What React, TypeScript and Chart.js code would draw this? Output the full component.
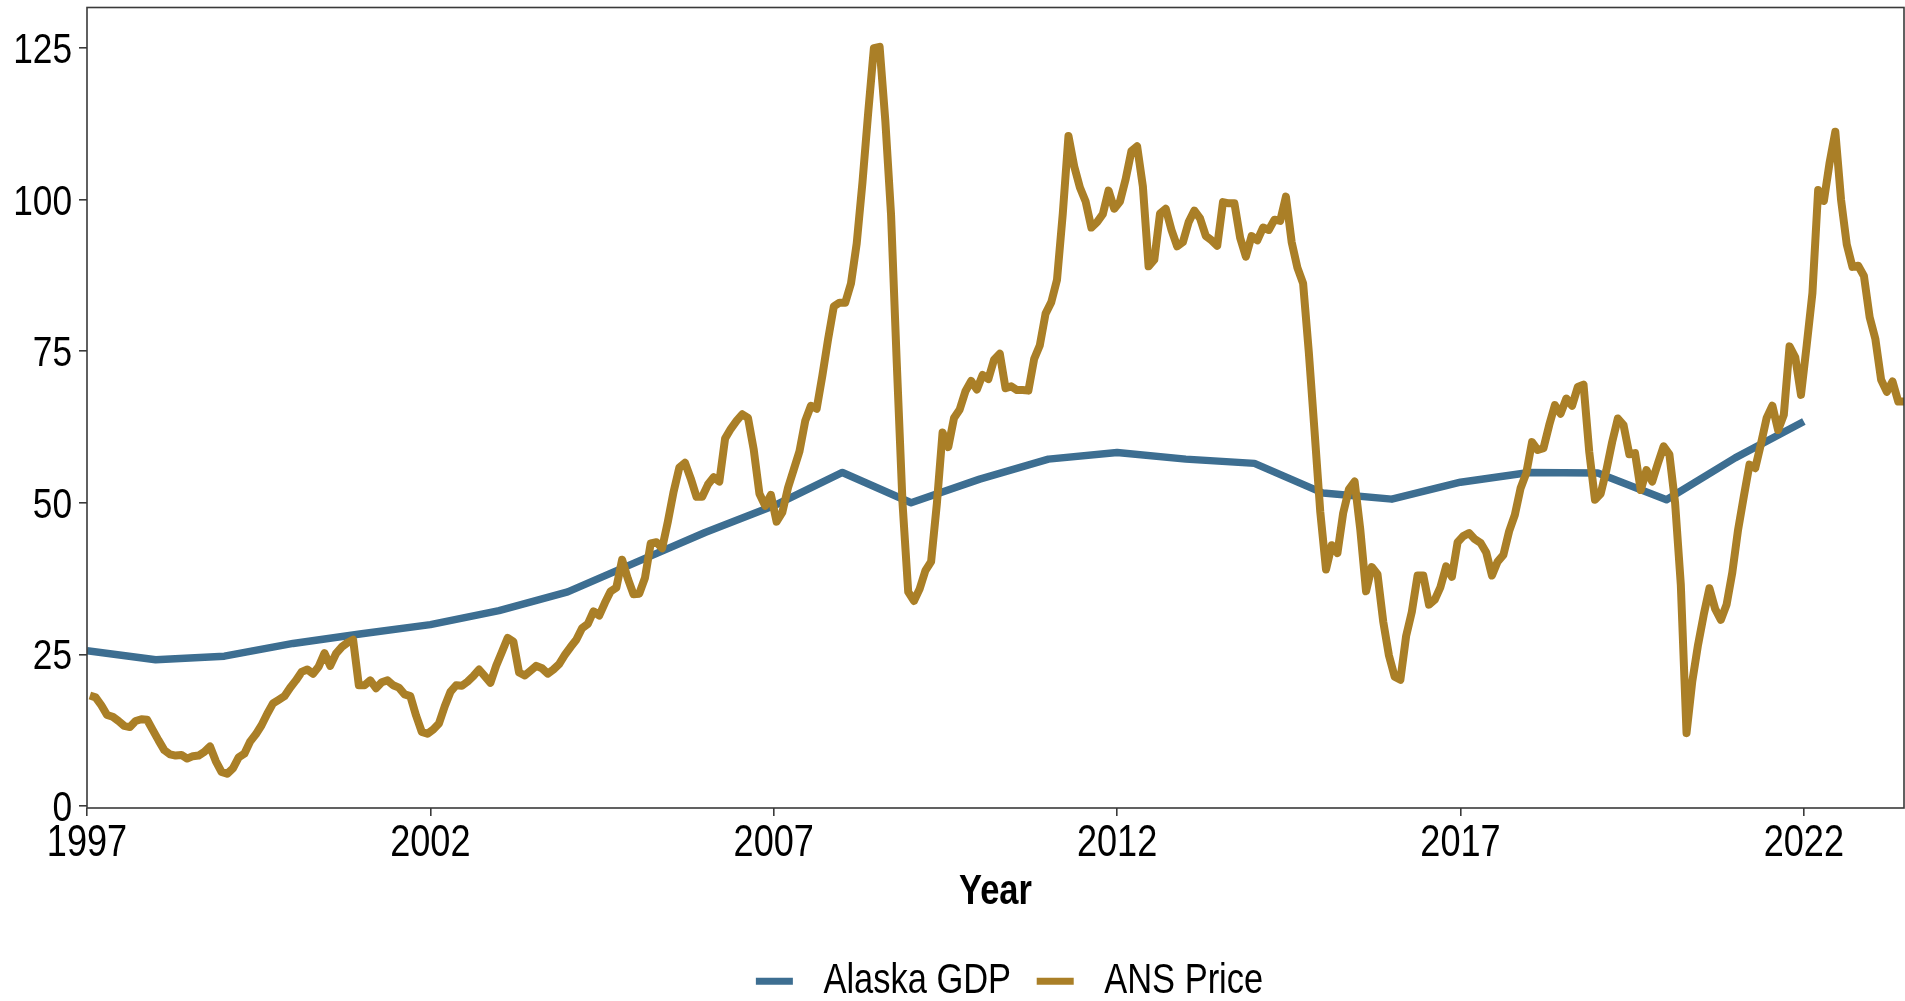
import React, { useEffect, useRef } from "react";
import { Chart, registerables } from "chart.js";

Chart.register(...registerables);

// ---- Data ----
const seriesLabels = ["Alaska GDP", "ANS Price"];
const seriesColors = ["#3D6E91", "#AA7F27"];

const gdpYears = [
  1997, 1998, 1999, 2000, 2001, 2002, 2003, 2004, 2005, 2006, 2007, 2008, 2009,
  2010, 2011, 2012, 2013, 2014, 2015, 2016, 2017, 2018, 2019, 2020, 2021, 2022,
];
const gdpValues = [
  25.6, 24.1, 24.7, 26.8, 28.4, 29.9, 32.2, 35.3, 40.2, 45.1, 49.5, 55.0, 50.0,
  53.9, 57.2, 58.3, 57.2, 56.5, 51.6, 50.6, 53.4, 55.0, 54.9, 50.5, 57.4, 63.4,
];

// Monthly ANS price, January 1997 onward (plotted at mid-month)
const ansStartYear = 1997;
const ansPrice = [
  18.2, 17.9, 16.6, 15.0, 14.7, 14.0, 13.2, 13.0, 14.0, 14.3, 14.2, 12.5, // 1997
  10.8, 9.2, 8.5, 8.3, 8.4, 7.8, 8.2, 8.3, 8.9, 9.8, 7.4, 5.6, // 1998
  5.3, 6.2, 8.0, 8.6, 10.6, 11.8, 13.3, 15.2, 16.9, 17.5, 18.1, 19.5, // 1999
  20.7, 22.1, 22.5, 21.8, 23.0, 25.2, 23.1, 25.1, 26.2, 26.9, 27.4, 19.9, // 2000
  19.9, 20.7, 19.4, 20.4, 20.7, 19.9, 19.5, 18.4, 18.1, 14.9, 12.2, 11.9, // 2001
  12.6, 13.6, 16.4, 18.8, 19.9, 19.8, 20.5, 21.4, 22.5, 21.4, 20.3, 23.1, // 2002
  25.4, 27.7, 27.1, 22.0, 21.5, 22.3, 23.1, 22.7, 21.8, 22.5, 23.4, 24.9, // 2003
  26.2, 27.4, 29.3, 30.0, 32.1, 31.4, 33.5, 35.4, 36.0, 40.6, 37.5, 34.9, // 2004
  35.0, 37.6, 43.3, 43.5, 42.5, 46.9, 51.8, 55.8, 56.6, 54.0, 51.0, 51.0, // 2005
  53.0, 54.2, 53.5, 60.6, 62.2, 63.5, 64.6, 64.0, 58.8, 51.5, 49.5, 51.3, // 2006
  46.9, 48.4, 52.5, 55.5, 58.5, 63.5, 66.0, 65.5, 71.0, 77.0, 82.4, 83.0, // 2007
  83.0, 86.2, 92.8, 102.8, 114.3, 125.0, 125.2, 113.0, 97.5, 73.0, 50.0, 35.3, // 2008
  33.8, 35.8, 38.8, 40.3, 49.8, 61.6, 59.2, 64.0, 65.4, 68.4, 70.1, 68.7, // 2009
  71.1, 70.4, 73.6, 74.6, 68.9, 69.2, 68.6, 68.6, 68.5, 73.7, 76.0, 81.2, // 2010
  83.1, 86.8, 97.6, 110.5, 105.5, 102.0, 99.7, 95.4, 96.3, 97.6, 101.5, 98.5, // 2011
  99.7, 103.4, 108.0, 108.8, 102.2, 89.0, 90.1, 97.7, 98.5, 95.0, 92.3, 93.0, // 2012
  96.3, 98.2, 96.9, 94.0, 93.3, 92.4, 99.6, 99.4, 99.4, 93.7, 90.6, 94.0, // 2013
  93.3, 95.4, 95.0, 96.7, 96.5, 100.5, 93.0, 88.8, 86.2, 74.8, 61.8, 48.5, // 2014
  39.0, 43.0, 41.7, 48.3, 52.2, 53.5, 45.5, 35.4, 39.4, 38.2, 30.4, 24.8, // 2015
  21.3, 20.8, 28.0, 32.0, 38.0, 38.0, 33.2, 34.0, 36.1, 39.5, 37.8, 43.5, // 2016
  44.5, 45.0, 44.0, 43.4, 41.8, 38.0, 40.3, 41.4, 45.3, 48.0, 52.4, 54.9, // 2017
  60.0, 58.7, 59.0, 62.8, 66.1, 64.7, 67.2, 66.0, 69.1, 69.5, 58.4, 50.5, // 2018
  51.5, 55.4, 60.0, 63.9, 62.8, 58.0, 58.2, 52.1, 55.4, 53.5, 56.5, 59.3, // 2019
  58.0, 50.0, 36.5, 12.0, 20.5, 26.5, 31.5, 35.9, 32.5, 30.7, 33.2, 38.5, // 2020
  45.5, 51.0, 56.3, 55.7, 59.7, 64.0, 66.0, 62.0, 64.5, 75.8, 74.0, 67.8, // 2021
  76.0, 84.6, 101.6, 99.8, 106.1, 111.2, 100.0, 92.6, 88.9, 89.1, 87.4, 80.6, // 2022
  77.0, 70.3, 68.3, 70.0, 66.7, 66.7, // 2023
];

const xTickYears = [1997, 2002, 2007, 2012, 2017, 2022];
const yTickValues = [0, 25, 50, 75, 100, 125];
const xAxisTitle = "Year";

const FONT = "'Liberation Sans', Arial, sans-serif";
const AXIS_COLOR = "#3a3a3a";
const NARROW = 0.82; // horizontal squeeze to emulate a narrow sans face

function applyNarrowText(ctx: any) {
  const origFill = ctx.fillText.bind(ctx);
  const origMeasure = ctx.measureText.bind(ctx);
  ctx.measureText = (text: string) => {
    const m = origMeasure(text);
    return {
      width: m.width * NARROW,
      actualBoundingBoxAscent: m.actualBoundingBoxAscent,
      actualBoundingBoxDescent: m.actualBoundingBoxDescent,
      actualBoundingBoxLeft: m.actualBoundingBoxLeft * NARROW,
      actualBoundingBoxRight: m.actualBoundingBoxRight * NARROW,
      fontBoundingBoxAscent: m.fontBoundingBoxAscent,
      fontBoundingBoxDescent: m.fontBoundingBoxDescent,
    };
  };
  ctx.fillText = (text: string, x: number, y: number, maxWidth?: number) => {
    const w = origMeasure(text).width * NARROW;
    const mw = maxWidth !== undefined && maxWidth !== null ? Math.min(w, maxWidth) : w;
    origFill(text, x, y, mw);
  };
}

const panelBorder = {
  id: "panelBorder",
  afterLayout(chart: any) {
    const lg = chart.legend;
    if (lg) {
      lg.left += 57.5;
      lg.right += 57.5;
    }
  },
  afterDatasetsDraw(chart: any) {
    const { ctx, chartArea } = chart;
    ctx.save();
    ctx.strokeStyle = AXIS_COLOR;
    ctx.lineWidth = 1.6;
    ctx.strokeRect(
      chartArea.left,
      chartArea.top,
      chartArea.right - chartArea.left,
      chartArea.bottom - chartArea.top
    );
    ctx.restore();
  },
};

export default function App() {
  const canvasRef = useRef<HTMLCanvasElement | null>(null);

  useEffect(() => {
    const canvas = canvasRef.current;
    if (!canvas) return;
    const ctx2d = canvas.getContext("2d");
    if (ctx2d) applyNarrowText(ctx2d);

    const gdpData = gdpYears.map((yr, i) => ({ x: yr, y: gdpValues[i] }));
    const ansData = ansPrice.map((v, i) => ({ x: ansStartYear + (i + 0.5) / 12, y: v }));
    const xMax = ansData[ansData.length - 1].x;

    const chart = new Chart(canvas, {
      type: "line",
      data: {
        datasets: [
          {
            label: seriesLabels[0],
            data: gdpData,
            borderColor: seriesColors[0],
            backgroundColor: seriesColors[0],
            borderWidth: 7.5,
            pointRadius: 0,
            tension: 0,
            borderJoinStyle: "round",
            order: 1,
          },
          {
            label: seriesLabels[1],
            data: ansData,
            borderColor: seriesColors[1],
            backgroundColor: seriesColors[1],
            borderWidth: 8,
            pointRadius: 0,
            tension: 0,
            borderJoinStyle: "round",
            order: 0,
          },
        ],
      },
      options: {
        responsive: false,
        animation: false,
        devicePixelRatio: 1,
        layout: { padding: { top: 7.5, right: 1, left: 0, bottom: -11.3 } },
        plugins: {
          tooltip: { enabled: false },
          legend: {
            display: true,
            position: "bottom",
            labels: {
              boxWidth: 37,
              boxHeight: 7,
              padding: 25.7,
              color: "#000",
              font: { family: FONT, size: 42 },
              generateLabels: () =>
                seriesLabels.map((t, i) => ({
                  text: " " + t,
                  fillStyle: seriesColors[i],
                  strokeStyle: seriesColors[i],
                  lineWidth: 0,
                  hidden: false,
                  datasetIndex: i,
                })),
            },
          },
        },
        scales: {
          x: {
            type: "linear",
            min: 1997,
            max: xMax,
            afterBuildTicks: (axis: any) => {
              axis.ticks = xTickYears.map((v) => ({ value: v }));
            },
            afterFit: (scale: any) => {
              scale.height = 126.6;
              scale.paddingLeft = 0;
              scale.paddingRight = 0;
            },
            ticks: {
              autoSkip: false,
              maxRotation: 0,
              padding: 1,
              color: "#000",
              font: { family: FONT, size: 44 },
              callback: (v: any) => String(v),
            },
            grid: {
              display: true,
              drawOnChartArea: false,
              drawTicks: true,
              tickLength: 8,
              color: AXIS_COLOR,
              lineWidth: 1.6,
            },
            border: { display: false },
            title: {
              display: true,
              text: xAxisTitle,
              color: "#000",
              font: { family: FONT, size: 42, weight: "bold" },
              padding: { top: 0, bottom: 16.6 },
            },
          },
          y: {
            type: "linear",
            min: -0.35,
            max: 131.7,
            afterBuildTicks: (axis: any) => {
              axis.ticks = yTickValues.map((v) => ({ value: v }));
            },
            afterFit: (scale: any) => {
              scale.width = 87;
              scale.paddingTop = 0;
              scale.paddingBottom = 0;
            },
            ticks: {
              padding: 7,
              labelOffset: 3,
              color: "#000",
              font: { family: FONT, size: 43 },
              callback: (v: any) => String(v),
            },
            grid: {
              display: true,
              drawOnChartArea: false,
              drawTicks: true,
              tickLength: 8,
              color: AXIS_COLOR,
              lineWidth: 1.6,
            },
            border: { display: false },
          },
        },
      },
      plugins: [panelBorder],
    });

    return () => chart.destroy();
  }, []);

  return (
    <div
      style={{
        position: "absolute",
        left: 0,
        top: 0,
        width: 1905,
        height: 1001,
        background: "#fff",
        overflow: "hidden",
      }}
    >
      <canvas ref={canvasRef} width={1905} height={1001} style={{ display: "block" }} />
    </div>
  );
}
